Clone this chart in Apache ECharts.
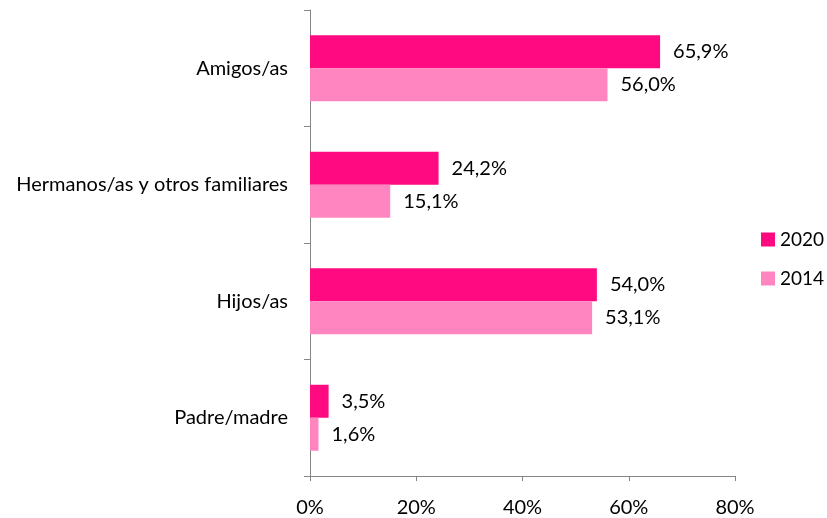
<!DOCTYPE html>
<html>
<head>
<meta charset="utf-8">
<script src="https://cdn.jsdelivr.net/npm/echarts@6/dist/echarts.min.js"></script>
<style>
  html, body { margin: 0; padding: 0; background: #fff; }
  #chart { width: 827px; height: 518px; }
</style>
</head>
<body>
<div id="chart"></div>
<script>
// datos del gráfico
var categorias = ['Amigos/as', 'Hermanos/as y otros familiares', 'Hijos/as', 'Padre/madre'];
var datos2020 = [65.9, 24.2, 54.0, 3.5];
var datos2014 = [56.0, 15.1, 53.1, 1.6];
var ticksX = [0, 20, 40, 60, 80];

var fuente = 'Lato';
var ejeColor = '#868686';
var tam = 20;

var dom = document.getElementById('chart');
var myChart = echarts.init(dom);

function etiqueta(p) {
    return p.value.toFixed(1).replace('.', ',') + '%';
}

var option = {
    animation: false,
    textStyle: { fontFamily: fuente },
    grid: {
        left: 310,
        right: 92,
        top: 10,
        bottom: 40
    },
    legend: {
        data: ['2020', '2014'],
        orient: 'vertical',
        left: 761,
        top: 230,
        padding: 0,
        itemWidth: 14,
        itemHeight: 14,
        itemGap: 20,
        icon: 'rect',
        textStyle: { fontFamily: fuente, fontSize: 19, color: '#000' }
    },
    xAxis: {
        type: 'value',
        min: ticksX[0],
        max: ticksX[ticksX.length - 1],
        interval: 20,
        splitLine: { show: false },
        axisLine: { show: true, lineStyle: { color: ejeColor } },
        axisTick: { show: true, length: 5, lineStyle: { color: ejeColor } },
        axisLabel: {
            formatter: '{value}%',
            color: '#000',
            fontSize: tam,
            margin: 22,
            fontFamily: fuente
        }
    },
    yAxis: {
        type: 'category',
        data: categorias,
        inverse: true,
        axisLine: { show: true, lineStyle: { color: ejeColor } },
        axisTick: { show: true, length: 6, lineStyle: { color: ejeColor } },
        axisLabel: {
            color: '#000',
            fontSize: tam,
            margin: 22,
            fontFamily: fuente
        }
    },
    series: [{
        name: '2020',
        type: 'bar',
        data: datos2020,
        barWidth: 33,
        barGap: '0%',
        itemStyle: { color: '#FF0A80' },
        label: {
            show: true,
            position: 'right',
            distance: 13,
            formatter: etiqueta,
            color: '#000',
            fontSize: tam,
            fontFamily: fuente
        }
    }, {
        name: '2014',
        type: 'bar',
        data: datos2014,
        barWidth: 33,
        itemStyle: { color: '#FF85C0' },
        label: {
            show: true,
            position: 'right',
            distance: 13,
            formatter: etiqueta,
            color: '#000',
            fontSize: tam,
            fontFamily: fuente
        }
    }]
};
myChart.setOption(option);
</script>
</body>
</html>
